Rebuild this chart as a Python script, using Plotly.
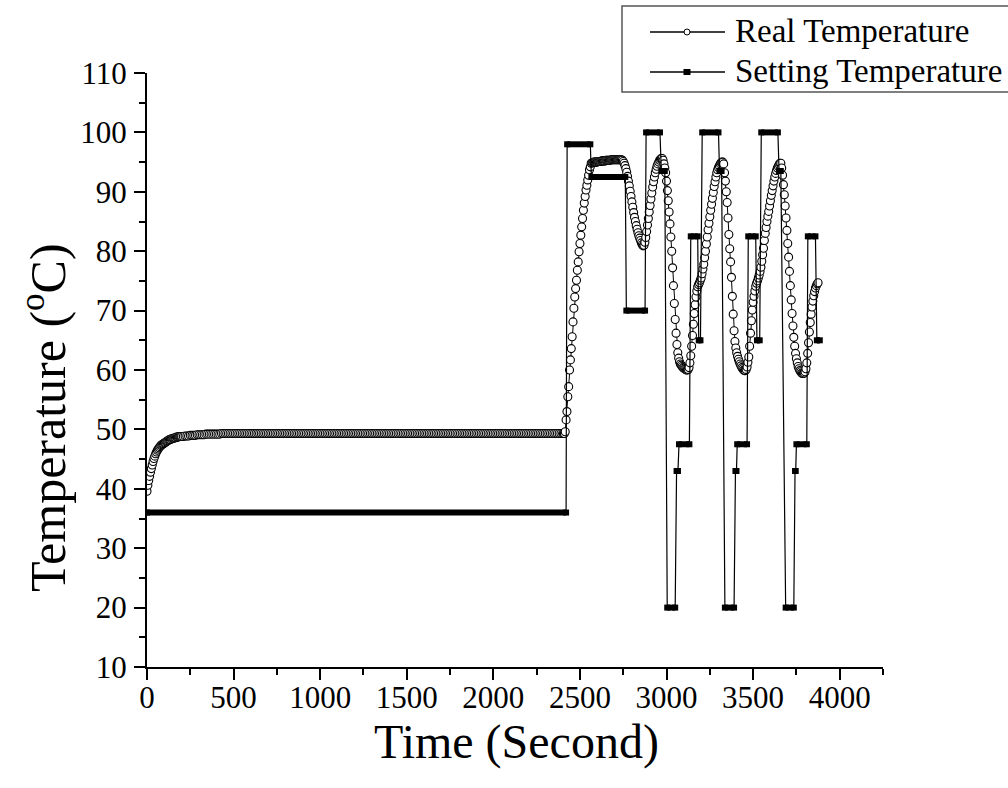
import plotly.graph_objects as go

# ---------------- DATA ----------------
# Real temperature, sampled in three blocks (time in seconds)
real_time_a = list(range(0, 200, 5))
real_temp_a = [
    39.6, 40.6, 41.4, 42.1, 42.8, 43.4, 44.0, 44.6, 45.1, 45.5,
    45.9, 46.2, 46.5, 46.7, 46.9, 47.1, 47.3, 47.4, 47.5, 47.6,
    47.7, 47.8, 47.9, 48.0, 48.1, 48.2, 48.3, 48.3, 48.4, 48.4,
    48.5, 48.5, 48.6, 48.6, 48.7, 48.7, 48.7, 48.8, 48.8, 48.8,
]

real_time_b = list(range(200, 2400, 10))
real_temp_b = [
    48.8, 48.8, 48.9, 48.9, 48.9, 49.0, 49.0, 49.0, 49.0, 49.1,
    49.1, 49.1, 49.1, 49.1, 49.2, 49.2, 49.2, 49.2, 49.2, 49.2,
    49.2, 49.2, 49.2, 49.3, 49.3, 49.3, 49.3, 49.3, 49.3, 49.3,
    49.3, 49.3, 49.3, 49.3, 49.3, 49.3, 49.3, 49.3, 49.3, 49.3,
    49.3, 49.3, 49.3, 49.3, 49.3, 49.3, 49.3, 49.3, 49.3, 49.3,
    49.3, 49.3, 49.3, 49.3, 49.3, 49.3, 49.3, 49.3, 49.3, 49.3,
    49.3, 49.3, 49.3, 49.3, 49.3, 49.3, 49.3, 49.3, 49.3, 49.3,
    49.3, 49.3, 49.3, 49.3, 49.3, 49.3, 49.3, 49.3, 49.3, 49.3,
    49.3, 49.3, 49.3, 49.3, 49.3, 49.3, 49.3, 49.3, 49.3, 49.3,
    49.3, 49.3, 49.3, 49.3, 49.3, 49.3, 49.3, 49.3, 49.3, 49.3,
    49.3, 49.3, 49.3, 49.3, 49.3, 49.3, 49.3, 49.3, 49.3, 49.3,
    49.3, 49.3, 49.3, 49.3, 49.3, 49.3, 49.3, 49.3, 49.3, 49.3,
    49.3, 49.3, 49.3, 49.3, 49.3, 49.3, 49.3, 49.3, 49.3, 49.3,
    49.3, 49.3, 49.3, 49.3, 49.3, 49.3, 49.3, 49.3, 49.3, 49.3,
    49.3, 49.3, 49.3, 49.3, 49.3, 49.3, 49.3, 49.3, 49.3, 49.3,
    49.3, 49.3, 49.3, 49.3, 49.3, 49.3, 49.3, 49.3, 49.3, 49.3,
    49.3, 49.3, 49.3, 49.3, 49.3, 49.3, 49.3, 49.3, 49.3, 49.3,
    49.3, 49.3, 49.3, 49.3, 49.3, 49.3, 49.3, 49.3, 49.3, 49.3,
    49.3, 49.3, 49.3, 49.3, 49.3, 49.3, 49.3, 49.3, 49.3, 49.3,
    49.3, 49.3, 49.3, 49.3, 49.3, 49.3, 49.3, 49.3, 49.3, 49.3,
    49.3, 49.3, 49.3, 49.3, 49.3, 49.3, 49.3, 49.3, 49.3, 49.3,
    49.3, 49.3, 49.3, 49.3, 49.3, 49.3, 49.3, 49.3, 49.3, 49.3,
]

real_time_c = list(range(2400, 3880, 5))
real_temp_c = [
    49.3, 49.3, 49.3, 49.6, 51.6, 53.0, 55.5, 57.2, 60.0, 61.7,   # 2400
    63.6, 65.6, 68.1, 70.4, 72.3, 73.7, 75.1, 76.8, 78.2, 79.9,   # 2450
    81.3, 82.7, 84.1, 85.5, 86.9, 88.1, 89.2, 90.3, 91.1, 92.0,   # 2500
    92.8, 93.7, 94.2, 94.8, 94.9, 94.9, 95.0, 95.0, 95.0, 95.0,   # 2550
    95.0, 95.1, 95.1, 95.1, 95.1, 95.2, 95.2, 95.2, 95.2, 95.2,   # 2600
    95.3, 95.3, 95.3, 95.3, 95.3, 95.3, 95.4, 95.4, 95.4, 95.4,   # 2650
    95.4, 95.4, 95.4, 95.4, 95.4, 95.4, 95.4, 95.4, 95.4, 95.3,   # 2700
    95.1, 94.8, 94.4, 93.9, 93.3, 92.6, 91.8, 91.0, 90.1, 89.2,   # 2750
    88.3, 87.4, 86.5, 85.7, 85.0, 84.3, 83.7, 83.1, 82.6, 82.2,   # 2800
    81.8, 81.4, 81.1, 80.9, 81.0, 81.5, 82.3, 83.3, 84.4, 85.5,   # 2850
    86.6, 87.7, 88.8, 89.8, 90.8, 91.7, 92.5, 93.2, 93.8, 94.3,   # 2900
    94.7, 95.0, 95.3, 95.5, 95.6, 95.6, 95.3, 94.7, 94.0, 93.2,   # 2950
    91.8, 90.2, 88.5, 86.6, 84.6, 82.4, 80.0, 77.2, 74.2, 71.2,   # 3000
    68.5, 66.2, 64.3, 62.9, 62.0, 61.4, 61.0, 60.8, 60.6, 60.4,   # 3050
    60.3, 60.2, 60.1, 60.0, 60.0, 60.1, 60.4, 61.2, 62.4, 64.0,   # 3100
    65.8, 67.7, 69.5, 71.0, 72.3, 73.3, 74.0, 74.4, 74.7, 75.1,   # 3150
    75.5, 76.2, 77.0, 77.8, 78.9, 80.0, 81.2, 82.4, 83.6, 84.7,   # 3200
    85.8, 86.9, 87.9, 88.9, 89.9, 90.9, 91.7, 92.5, 93.2, 93.7,   # 3250
    94.1, 94.4, 94.7, 94.9, 95.0, 95.0, 94.7, 93.2, 91.8, 90.0,   # 3300
    88.2, 85.6, 82.8, 80.4, 78.2, 75.6, 72.4, 69.4, 66.6, 64.8,   # 3350
    63.7, 62.9, 62.3, 61.8, 61.4, 61.0, 60.7, 60.4, 60.2, 60.0,   # 3400
    59.9, 59.9, 60.1, 60.5, 61.3, 62.2, 64.0, 66.2, 68.3, 70.1,   # 3450
    71.4, 72.4, 73.3, 74.1, 74.6, 75.0, 75.5, 76.0, 76.6, 77.3,   # 3500
    78.3, 79.4, 80.5, 81.8, 83.0, 84.0, 85.0, 85.9, 86.7, 87.6,   # 3550
    88.5, 89.4, 90.2, 91.0, 91.8, 92.5, 93.1, 93.6, 94.0, 94.3,   # 3600
    94.6, 94.8, 94.8, 94.0, 92.8, 91.2, 89.5, 87.6, 85.6, 83.5,   # 3650
    81.3, 79.0, 76.6, 74.2, 71.8, 69.5, 67.4, 65.5, 64.0, 62.8,   # 3700
    61.9, 61.2, 60.6, 60.2, 59.9, 59.7, 59.5, 59.4, 59.4, 59.5,   # 3750
    59.7, 60.2, 61.2, 62.8, 64.6, 66.4, 68.0, 69.4, 70.6, 71.6,   # 3800
    72.5, 73.2, 73.8, 74.2, 74.5, 74.7,                           # 3850
]

assert len(real_time_a) == len(real_temp_a)
assert len(real_time_b) == len(real_temp_b)
assert len(real_time_c) == len(real_temp_c)

real_time = real_time_a + real_time_b + real_time_c
real_temp = real_temp_a + real_temp_b + real_temp_c

# Setting temperature: each level held from set_start to set_end (seconds)
set_value = [36, 98, 92.5, 70, 100, 93.5, 20, 43, 47.5, 82.5, 65,
             100, 93.5, 20, 43, 47.5, 82.5, 65,
             100, 93.5, 20, 43, 47.5, 82.5, 65]
set_start = [0, 2426, 2566, 2768, 2882, 2970, 3004, 3058, 3072, 3140, 3186,
             3206, 3306, 3337, 3398, 3408, 3472, 3522,
             3547, 3650, 3688, 3742, 3750, 3816, 3868]
set_end = [2420, 2560, 2762, 2876, 2962, 2990, 3050, 3066, 3132, 3180, 3196,
           3300, 3318, 3390, 3404, 3465, 3515, 3538,
           3643, 3660, 3735, 3746, 3810, 3860, 3885]

x_ticks = [0, 500, 1000, 1500, 2000, 2500, 3000, 3500, 4000]
y_ticks = [10, 20, 30, 40, 50, 60, 70, 80, 90, 100, 110]

# ---------------- LAYOUT CONSTANTS ----------------
W, H = 1008, 788
L, R, T, B = 147, 883, 73, 667
SERIF = "Liberation Serif, Times New Roman, serif"


def px_x(px):
    return (px - L) / (R - L)


def px_y(py):
    return (B - py) / (B - T)


fig = go.Figure()

# Real temperature
fig.add_trace(go.Scatter(
    x=real_time, y=real_temp, mode="lines+markers", name="Real Temperature",
    line=dict(color="black", width=1),
    marker=dict(symbol="circle", size=8, color="white",
                line=dict(color="black", width=1.1)),
    showlegend=False,
))

# Setting temperature: thin connecting path
path_x, path_y = [], []
for s, e, v in zip(set_start, set_end, set_value):
    path_x += [s, e]
    path_y += [v, v]
fig.add_trace(go.Scatter(
    x=path_x, y=path_y, mode="lines", name="Setting Temperature",
    line=dict(color="black", width=1.2), showlegend=False,
))

# Setting temperature: thick held levels (dense square markers)
bar_x, bar_y = [], []
for s, e, v in zip(set_start, set_end, set_value):
    bar_x += [s, e, None]
    bar_y += [v, v, None]
fig.add_trace(go.Scatter(
    x=bar_x, y=bar_y, mode="lines+markers", name="Setting Temperature",
    line=dict(color="black", width=6),
    marker=dict(symbol="square", size=6, color="black"),
    showlegend=False, connectgaps=False,
))

axis_common = dict(
    showline=True, linecolor="black", linewidth=2,
    ticks="outside", ticklen=11, tickwidth=2, tickcolor="black",
    showgrid=False, zeroline=False, mirror=False,
    tickfont=dict(family=SERIF, size=31, color="black"),
)

fig.update_xaxes(
    range=[0, 4250], tickvals=x_ticks, ticktext=[str(v) for v in x_ticks],
    ticklabelstandoff=-9,
    minor=dict(dtick=250, tick0=0, ticks="outside", ticklen=6, tickwidth=2,
               tickcolor="black", showgrid=False),
    **axis_common,
)
fig.update_yaxes(
    range=[10, 110], tickvals=y_ticks, ticktext=[str(v) for v in y_ticks],
    ticklabelstandoff=1,
    minor=dict(dtick=5, tick0=10, ticks="outside", ticklen=6, tickwidth=2,
               tickcolor="black", showgrid=False),
    **axis_common,
)

shapes = []
annotations = []

# Manual legend box (partly beyond the right edge, as in the reference)
shapes.append(dict(type="rect", xref="paper", yref="paper",
                   x0=px_x(622), x1=px_x(1030), y0=px_y(92), y1=px_y(6),
                   line=dict(color="#555555", width=1.5), fillcolor="white",
                   layer="above"))
legend_rows = [("Real Temperature", 32), ("Setting Temperature", 72)]
for label, ypx in legend_rows:
    shapes.append(dict(type="line", xref="paper", yref="paper",
                       x0=px_x(650), x1=px_x(725), y0=px_y(ypx), y1=px_y(ypx),
                       line=dict(color="black", width=1.5), layer="above"))
    annotations.append(dict(text=label, xref="paper", yref="paper",
                            x=px_x(733), y=px_y(ypx - 1), xanchor="left",
                            yanchor="middle", showarrow=False,
                            font=dict(family=SERIF, size=33, color="black")))
shapes.append(dict(type="circle", xref="paper", yref="paper",
                   xsizemode="pixel", ysizemode="pixel",
                   xanchor=px_x(687), yanchor=px_y(32),
                   x0=-3, x1=3, y0=-3, y1=3,
                   line=dict(color="black", width=1), fillcolor="white",
                   layer="above"))
shapes.append(dict(type="rect", xref="paper", yref="paper",
                   xsizemode="pixel", ysizemode="pixel",
                   xanchor=px_x(687), yanchor=px_y(72),
                   x0=-3.5, x1=3.5, y0=-3, y1=3,
                   line=dict(color="black", width=0), fillcolor="black",
                   layer="above"))

# Axis titles
annotations.append(dict(text="Time (Second)", xref="paper", yref="paper",
                        x=px_x(516), y=px_y(742), xanchor="center",
                        yanchor="middle", showarrow=False,
                        font=dict(family=SERIF, size=48, color="black")))
annotations.append(dict(text="Temperature (<sup>o</sup>C)", xref="paper",
                        yref="paper", x=px_x(44), y=px_y(418),
                        xanchor="center", yanchor="middle", textangle=-90,
                        showarrow=False,
                        font=dict(family=SERIF, size=50, color="black")))

fig.update_layout(
    width=W, height=H,
    margin=dict(l=L, r=W - R, t=T, b=H - B, autoexpand=False),
    paper_bgcolor="white", plot_bgcolor="white",
    showlegend=False,
    shapes=shapes, annotations=annotations,
)

fig.write_html("out.html")
